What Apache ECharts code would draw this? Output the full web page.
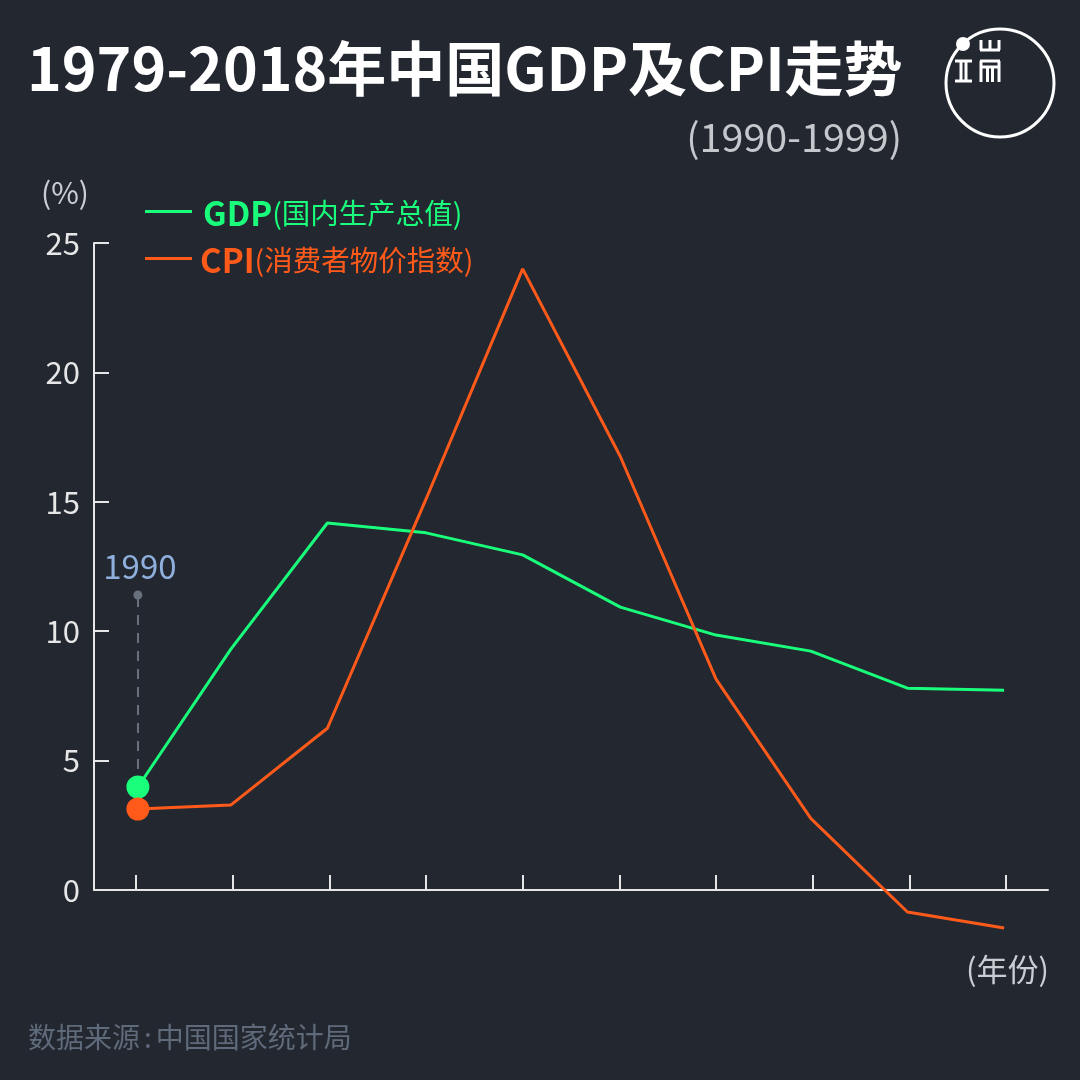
<!DOCTYPE html>
<html>
<head>
<meta charset="utf-8">
<title>1979-2018年中国GDP及CPI走势</title>
<style>
html, body { margin: 0; width: 100%; height: 100%; background: #232730; }
#box { width: 1080px; height: 1080px; }
</style>
</head>
<body>
<div id="box"></div>
<script src="https://cdn.jsdelivr.net/npm/echarts@6/dist/echarts.min.js"></script>
<script>
var years = [1990, 1991, 1992, 1993, 1994, 1995, 1996, 1997, 1998, 1999];
// the drawn vertices sit a little off the ticks in the picture
var pointYears = [1990.02, 1990.98, 1991.98, 1993, 1994, 1995.01, 1996, 1996.98, 1997.98, 1998.98];
var gdp = [3.98, 9.3, 14.18, 13.8, 12.95, 10.93, 9.85, 9.23, 7.8, 7.72];
var cpi = [3.13, 3.28, 6.25, 15.1, 24.0, 16.75, 8.15, 2.77, -0.85, -1.47];
var yTicks = [0, 25];
var noteTop = 11.4;

var font = '"Noto Sans CJK SC"';
var axisColor = '#e6e6e6';
var green = '#19ff7b';
var orange = '#ff5a1a';
var grey = '#5f6a7a';

function pairs(values) {
	return values.map(function (v, i) {
		return { value: [pointYears[i], v], symbolSize: i === 0 ? 23 : 0 };
	});
}

function bar(x1, y1, x2, y2) {
	return {
		type: 'line',
		shape: { x1: x1, y1: y1, x2: x2, y2: y2 },
		style: { stroke: '#fff', lineWidth: 3 }
	};
}

var myChart = echarts.init(document.getElementById('box'));

var option = {
	backgroundColor: '#232730',
	animation: false,
	textStyle: { fontFamily: font },
	title: [
		{ text: '1979-2018年中国GDP及CPI走势', left: 22, top: 34, textStyle: { color: '#fff', fontSize: 59, fontWeight: 'bold', fontFamily: font } },
		{ text: '(1990-1999)', right: 173, top: 112, textStyle: { color: '#c4c7cb', fontSize: 39.5, fontWeight: 'normal', fontFamily: font } },
		{ text: '(%)', left: 36, top: 173, textStyle: { color: '#c9ccd0', fontSize: 30, fontWeight: 'normal', fontFamily: font } },
		{ text: '(年份)', right: 26, top: 949, textStyle: { color: '#c9ccd0', fontSize: 31, fontWeight: 'normal', fontFamily: font } },
		{
			text: '{a|数据来源}{b|:}{a|中国国家统计局}',
			left: 23,
			top: 1018,
			textStyle: {
				rich: {
					a: { color: grey, fontSize: 28, fontWeight: 'normal', fontFamily: font },
					b: { color: grey, fontSize: 28, fontWeight: 'normal', fontFamily: font, padding: [0, 4, 0, 4] }
				}
			}
		}
	],
	legend: {
		left: 140,
		top: 192,
		orient: 'vertical',
		icon: 'rect',
		itemWidth: 47,
		itemHeight: 3,
		itemGap: 14,
		data: ['GDP', 'CPI'],
		formatter: function (name) {
			return name === 'GDP' ? '{g|GDP}{gs|(国内生产总值)}' : '{c|CPI}{cs|(消费者物价指数)}';
		},
		textStyle: {
			fontFamily: font,
			rich: {
				g: { color: green, fontSize: 33, fontWeight: 'bold', fontFamily: font, padding: [4, 0, 0, 6], height: 39 },
				gs: { color: green, fontSize: 28.5, fontFamily: font, padding: [4, 0, 0, 0], height: 39 },
				c: { color: orange, fontSize: 33, fontWeight: 'bold', fontFamily: font, padding: [4, 0, 0, 3], height: 39 },
				cs: { color: orange, fontSize: 28.5, fontFamily: font, padding: [4, 0, 0, 0], height: 39 }
			}
		}
	},
	grid: { left: 94, right: 32, top: 243, bottom: 190 },
	xAxis: {
		type: 'value',
		min: 1989.566,
		max: 1999.434,
		axisLine: { onZero: false, lineStyle: { color: axisColor, width: 2 } },
		axisTick: { show: true, inside: true, length: 15, customValues: years, lineStyle: { color: axisColor, width: 2 } },
		axisLabel: { show: false },
		splitLine: { show: false }
	},
	yAxis: {
		type: 'value',
		min: yTicks[0],
		max: yTicks[1],
		interval: 5,
		axisLine: { show: true, lineStyle: { color: axisColor, width: 2 } },
		axisTick: { show: true, inside: true, length: 15, lineStyle: { color: axisColor, width: 2 } },
		axisLabel: { color: '#e6e6e6', fontSize: 31, margin: 14, fontFamily: font },
		splitLine: { show: false }
	},
	series: [
		{
			name: 'GDP',
			type: 'line',
			z: 3,
			clip: false,
			symbol: 'circle',
			showAllSymbol: true,
			data: pairs(gdp),
			lineStyle: { color: green, width: 3 },
			itemStyle: { color: green },
			markLine: {
				silent: true,
				z: 1,
				symbol: ['none', 'circle'],
				symbolSize: 9,
				label: { show: false },
				lineStyle: { color: '#68707c', type: [10, 8], width: 2 },
				data: [[
					{ coord: [pointYears[0], gdp[0]] },
					{
						coord: [pointYears[0], noteTop],
						itemStyle: { color: '#68707c' },
						label: { show: true, position: 'end', formatter: '1990', color: '#8fb0dc', fontSize: 33, fontFamily: font, distance: 12, offset: [2, 0] }
					}
				]]
			}
		},
		{
			name: 'CPI',
			type: 'line',
			z: 4,
			clip: false,
			symbol: 'circle',
			showAllSymbol: true,
			data: pairs(cpi),
			lineStyle: { color: orange, width: 3 },
			itemStyle: { color: orange }
		}
	],
	graphic: [
		{ type: 'circle', shape: { cx: 1000, cy: 83, r: 54 }, style: { fill: 'none', stroke: '#fff', lineWidth: 3 } },
		{ type: 'circle', shape: { cx: 963, cy: 44, r: 7 }, style: { fill: '#fff' } },
		bar(955, 61, 972, 61), bar(955, 81, 972, 81), bar(961, 61, 961, 81), bar(966, 61, 966, 81),
		bar(980, 50, 1000, 50), bar(981, 40, 981, 50), bar(990, 40, 990, 50), bar(999, 40, 999, 50),
		bar(980, 61, 1000, 61), bar(981, 61, 981, 82), bar(999, 61, 999, 82), bar(981, 67, 999, 67), bar(987.5, 67, 987.5, 82), bar(992.5, 67, 992.5, 82)
	]
};

myChart.setOption(option);
</script>
</body>
</html>
